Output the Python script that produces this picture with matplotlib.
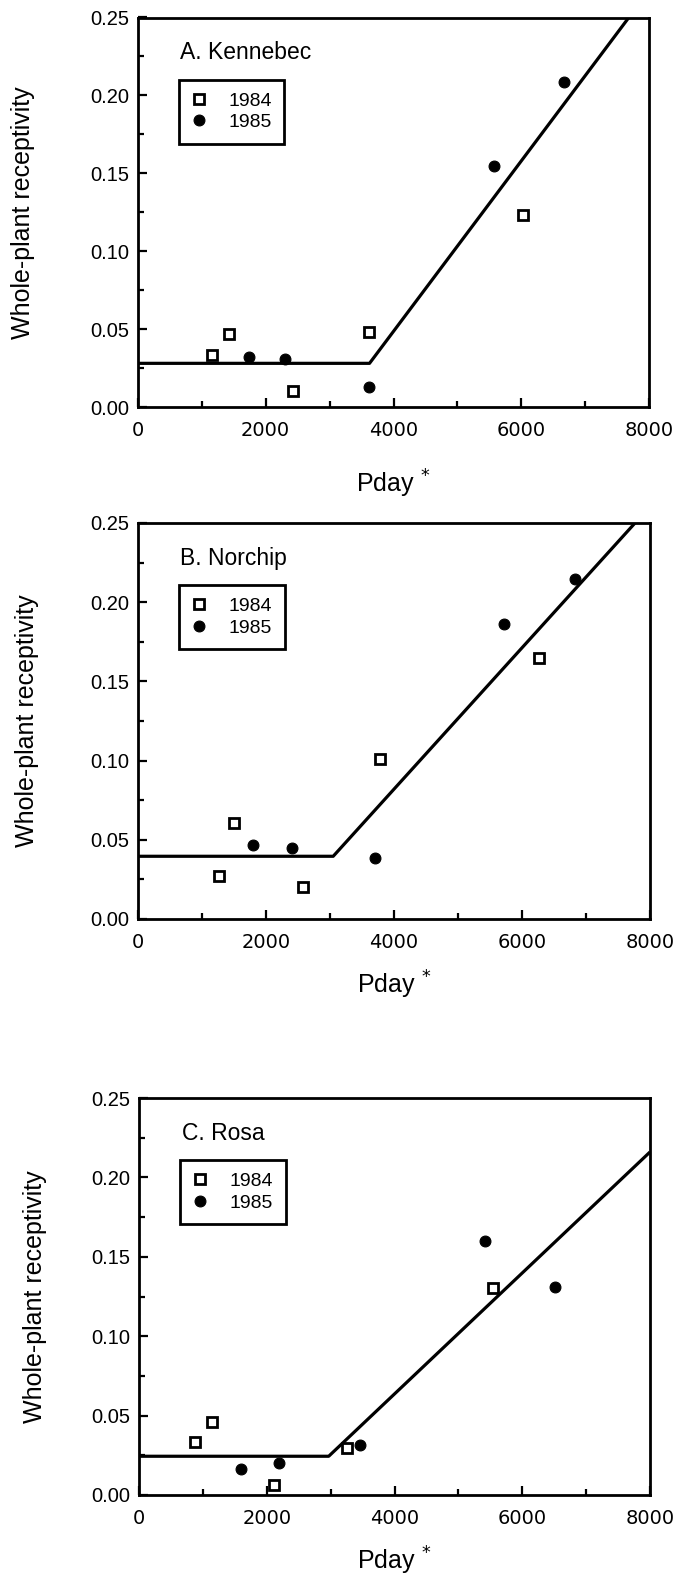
import matplotlib
matplotlib.use("Agg")
from matplotlib import pyplot as plt
from matplotlib.ticker import MultipleLocator, FormatStrFormatter

plt.rcParams['font.family'] = ['Liberation Sans', 'DejaVu Sans']
plt.rcParams['mathtext.fontset'] = 'dejavusans'

# --- values ---
titles = ["A. Kennebec", "B. Norchip", "C. Rosa"]

# A. Kennebec
a84_x = [1157, 1427, 2435, 3614, 6022]
a84_y = [0.0334, 0.0472, 0.0106, 0.0485, 0.1233]
a85_x = [1736, 2298, 3620, 5573, 6667]
a85_y = [0.0323, 0.0308, 0.0129, 0.155, 0.2086]
a_fit_x = [0, 3625, 7680]
a_fit_y = [0.0282, 0.0282, 0.25]

# B. Norchip
b84_x = [1273, 1506, 2574, 3784, 6258]
b84_y = [0.0270, 0.0609, 0.0204, 0.1012, 0.1648]
b85_x = [1803, 2404, 3710, 5716, 6822]
b85_y = [0.0466, 0.0451, 0.0383, 0.1864, 0.2145]
b_fit_x = [0, 3050, 7766]
b_fit_y = [0.0396, 0.0396, 0.25]

# C. Rosa
c84_x = [884, 1149, 2115, 3262, 5539]
c84_y = [0.0336, 0.0458, 0.006, 0.0299, 0.1306]
c85_x = [1597, 2195, 3466, 5417, 6518]
c85_y = [0.0162, 0.0204, 0.0316, 0.160, 0.1309]
c_fit_x = [0, 2970, 8000]
c_fit_y = [0.0244, 0.0244, 0.216]

years = ["1984", "1985"]

panels = [
    (a84_x, a84_y, a85_x, a85_y, a_fit_x, a_fit_y),
    (b84_x, b84_y, b85_x, b85_y, b_fit_x, b_fit_y),
    (c84_x, c84_y, c85_x, c85_y, c_fit_x, c_fit_y),
]

# axes boxes in pixels (left, right, top, bottom) of a 681x1579 figure
W, H = 681.0, 1579.0
boxes = [(137.7, 649.3, 17.5, 407.3),
         (138.0, 650.0, 523.0, 919.0),
         (139.0, 650.0, 1098.0, 1495.0)]
ylab_x = [23, 27, 35]
xlab_off = [85, 75, 75]

fig = plt.figure(figsize=(W / 100, H / 100), dpi=100)

for i, (p84x, p84y, p85x, p85y, fx, fy) in enumerate(panels):
    l, r, t, b = boxes[i]
    ax = fig.add_axes([l / W, 1 - b / H, (r - l) / W, (b - t) / H])
    hpx = b - t
    wpx = r - l

    ax.plot(fx, fy, color='black', lw=2.3, solid_capstyle='butt', clip_on=True)
    ax.plot(p84x, p84y, 's', ms=7.5, mfc='white', mec='black', mew=2.0,
            label=years[0], zorder=3)
    ax.plot(p85x, p85y, 'o', ms=7.8, mfc='black', mec='black', mew=0.8,
            label=years[1], zorder=3)

    ax.set_xlim(0, 8000)
    ax.set_ylim(0, 0.25)
    ax.xaxis.set_major_locator(MultipleLocator(2000))
    ax.xaxis.set_minor_locator(MultipleLocator(1000))
    ax.yaxis.set_major_locator(MultipleLocator(0.05))
    ax.yaxis.set_minor_locator(MultipleLocator(0.025))
    ax.yaxis.set_major_formatter(FormatStrFormatter('%.2f'))

    for s in ax.spines.values():
        s.set_linewidth(2.0)
    ax.tick_params(which='both', direction='in', width=1.6,
                   top=False, right=False)
    ax.tick_params(which='major', length=6.5)
    ax.tick_params(which='minor', length=4)
    ax.tick_params(axis='y', which='major', labelsize=14.5, pad=6)
    ax.tick_params(axis='x', which='major', labelsize=14, pad=10)
    for lab in ax.get_xticklabels():
        lab.set_family('DejaVu Sans')

    ax.text(42.5 / wpx, 1 - 41.5 / hpx, titles[i], transform=ax.transAxes,
            fontsize=16.5, ha='left', va='baseline')

    leg = ax.legend(loc='upper left', bbox_to_anchor=(41 / wpx, 1 - 62 / hpx),
                    borderaxespad=0, fontsize=14, frameon=True, fancybox=False,
                    edgecolor='black', framealpha=1, handlelength=0.8,
                    handletextpad=1.1, borderpad=0.65, labelspacing=0.2,
                    numpoints=1)
    leg.get_frame().set_linewidth(2.0)

    ax.set_ylabel("Whole-plant receptivity", fontsize=18, va='center')
    ax.yaxis.set_label_coords((ylab_x[i] - l) / wpx, 0.5)

    ax.annotate("Pday $^{*}$", xy=(0.5, 0), xycoords='axes fraction',
                xytext=(0, -xlab_off[i] * 0.72), textcoords='offset points',
                ha='center', va='baseline', fontsize=18)

fig.savefig("out.png", dpi=100)
